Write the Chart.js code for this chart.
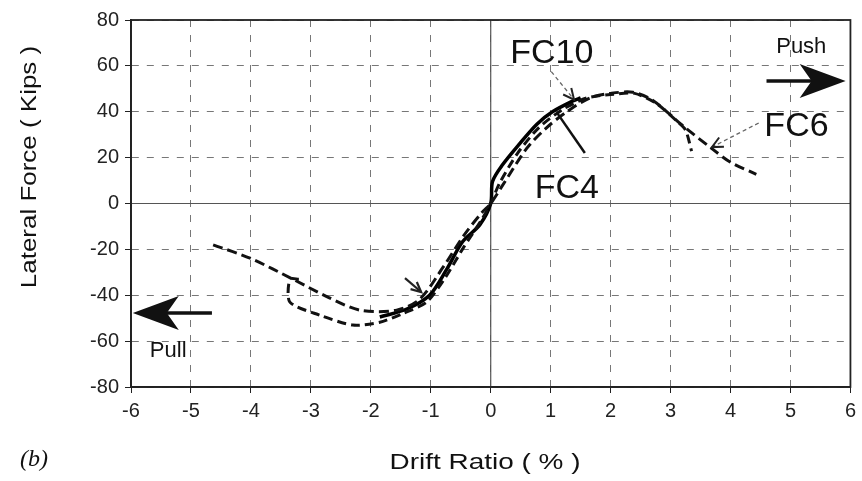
<!DOCTYPE html>
<html>
<head>
<meta charset="utf-8">
<script src="https://cdn.jsdelivr.net/npm/chart.js@4.4.1/dist/chart.umd.min.js"></script>
<style>
    html, body { margin: 0; padding: 0; background: #fff; }
</style>
</head>
<body>
<canvas id="lateralChart" width="862" height="481"></canvas>
<script>
// values: drift ratio (%) vs lateral force (kips)
const fc4X = [-1.85, -1.4, -1.02, -0.73, -0.47, -0.18, 0, 0.03, 0.2, 0.48, 0.77, 1.03, 1.37, 1.5];
const fc4Y = [-49.5, -46, -40, -28.5, -16.7, -9.2, 0, 9.6, 17, 26, 34.6, 40, 44.7, 46];

const fc6X = [-4.63, -4.0, -3.3, -2.7, -2.18, -1.57, -1.18, -0.8, -0.45, -0.15, 0, 0.2, 0.6, 0.93, 1.27, 1.65, 2.0, 2.37, 2.7, 3.2, 3.7, 4.0, 4.43];
const fc6Y = [-18, -24, -33, -41, -46.5, -46.5, -41.6, -28, -14, -4, 0, 8, 24, 33, 40, 46, 48, 48.5, 45, 34, 23.7, 18, 12.7];

const fc10X = [-3.2, -3.35, -3.35, -2.85, -2.3, -1.85, -1.47, -1.07, -0.75, -0.45, -0.15, 0, 0.15, 0.45, 0.8, 1.2, 1.6, 2.0, 2.4, 2.77, 3.1, 3.25, 3.35];
const fc10Y = [-33, -33, -43, -48.7, -53, -51.8, -48, -43, -32, -19, -7, 0, 9, 22, 33, 41, 46, 47.5, 48, 43.5, 36, 32, 22.8];

const xTickValues = [-6, -5, -4, -3, -2, -1, 0, 1, 2, 3, 4, 5, 6];
const yTickValues = [-80, -60, -40, -20, 0, 20, 40, 60, 80];

function toPoints(xs, ys) {
    return xs.map((x, i) => ({ x: x, y: ys[i] }));
}

// arrow head made of two short strokes
function drawHead(ctx, x1, y1, x2, y2, len) {
    const ang = Math.atan2(y2 - y1, x2 - x1);
    ctx.beginPath();
    ctx.moveTo(x2 - len * Math.cos(ang - 0.45), y2 - len * Math.sin(ang - 0.45));
    ctx.lineTo(x2, y2);
    ctx.lineTo(x2 - len * Math.cos(ang + 0.45), y2 - len * Math.sin(ang + 0.45));
    ctx.stroke();
}

// big filled arrow (Push / Pull)
function drawBigArrow(ctx, xFrom, xTo, yy) {
    const dir = xTo > xFrom ? 1 : -1;
    ctx.lineWidth = 3.5;
    ctx.beginPath();
    ctx.moveTo(xFrom, yy);
    ctx.lineTo(xTo - dir * 30, yy);
    ctx.stroke();
    ctx.beginPath();
    ctx.moveTo(xTo, yy);
    ctx.lineTo(xTo - dir * 46, yy - 17);
    ctx.lineTo(xTo - dir * 34, yy);
    ctx.lineTo(xTo - dir * 46, yy + 17);
    ctx.closePath();
    ctx.fill();
}

const figureDecor = {
    id: 'figureDecor',
    beforeDatasetsDraw(chart) {
        const { ctx, chartArea: a, scales: { x, y } } = chart;
        ctx.save();
        // solid zero lines
        ctx.strokeStyle = '#555';
        ctx.lineWidth = 1.2;
        ctx.beginPath();
        ctx.moveTo(x.getPixelForValue(0), a.top);
        ctx.lineTo(x.getPixelForValue(0), a.bottom);
        ctx.moveTo(a.left, y.getPixelForValue(0));
        ctx.lineTo(a.right, y.getPixelForValue(0));
        ctx.stroke();
        // frame
        ctx.strokeStyle = '#222';
        ctx.lineWidth = 1.8;
        ctx.strokeRect(a.left, a.top, a.right - a.left, a.bottom - a.top);
        ctx.restore();
    },
    afterDatasetsDraw(chart) {
        const { ctx, scales: { x, y } } = chart;
        const px = v => x.getPixelForValue(v);
        const py = v => y.getPixelForValue(v);
        ctx.save();
        ctx.fillStyle = '#111';
        ctx.strokeStyle = '#111';
        ctx.textAlign = 'center';
        ctx.textBaseline = 'alphabetic';

        // curve labels
        ctx.font = '34px "Liberation Sans", Arial, sans-serif';
        ctx.fillText('FC10', px(1.02), py(61.2));
        ctx.fillText('FC4', px(1.27), py(2.4));
        ctx.fillText('FC6', px(5.1), py(29.4));

        ctx.font = '22px "Liberation Sans", Arial, sans-serif';
        ctx.fillText('Push', px(5.18), py(65.6));
        ctx.fillText('Pull', px(-5.38), py(-66.9));

        drawBigArrow(ctx, px(4.6), px(5.92), py(53.4));
        drawBigArrow(ctx, px(-4.65), px(-5.97), py(-47.7));

        // FC4 pointer (solid)
        ctx.lineWidth = 2.5;
        ctx.beginPath();
        ctx.moveTo(px(1.11), py(39.4));
        ctx.lineTo(px(1.57), py(22));
        ctx.stroke();

        // thin dashed pointers
        ctx.strokeStyle = '#666';
        ctx.lineWidth = 1.3;
        ctx.setLineDash([4, 3]);
        ctx.beginPath();
        ctx.moveTo(px(1.01), py(57.5));
        ctx.lineTo(px(1.39), py(45.3));
        ctx.moveTo(px(4.47), py(35.1));
        ctx.lineTo(px(3.69), py(24.6));
        ctx.stroke();
        ctx.setLineDash([]);
        ctx.strokeStyle = '#222';
        ctx.lineWidth = 2;
        drawHead(ctx, px(1.01), py(57.5), px(1.39), py(45.3), 12);
        drawHead(ctx, px(4.47), py(35.1), px(3.69), py(24.6), 12);

        // pointer on the negative branch
        ctx.lineWidth = 2.2;
        ctx.beginPath();
        ctx.moveTo(px(-1.43), py(-32.5));
        ctx.lineTo(px(-1.16), py(-38.6));
        ctx.stroke();
        drawHead(ctx, px(-1.43), py(-32.5), px(-1.16), py(-38.6), 11);
        ctx.restore();
    },
    afterDraw(chart) {
        const { ctx, chartArea: a } = chart;
        ctx.save();
        ctx.fillStyle = '#111';
        ctx.textAlign = 'center';
        ctx.textBaseline = 'alphabetic';
        ctx.font = '22px "Liberation Sans", Arial, sans-serif';

        // x axis title, slightly stretched like the scan
        ctx.save();
        ctx.translate(485, 469);
        ctx.scale(1.27, 1);
        ctx.fillText('Drift Ratio ( % )', 0, 0);
        ctx.restore();

        // y axis title
        ctx.save();
        ctx.translate(36, 167);
        ctx.rotate(-Math.PI / 2);
        ctx.scale(1.18, 1);
        ctx.fillText('Lateral Force ( Kips )', 0, 0);
        ctx.restore();

        ctx.font = 'italic 24px "Liberation Serif", "Times New Roman", serif';
        ctx.fillText('(b)', 34, 466);
        ctx.restore();
    }
};

const ctx = document.getElementById('lateralChart').getContext('2d');

const lateralChart = new Chart(ctx, {
    type: 'scatter',
    data: {
        datasets: [
            {
                label: 'FC6',
                data: toPoints(fc6X, fc6Y),
                showLine: true,
                borderColor: '#111',
                borderWidth: 3,
                borderDash: [10, 5],
                pointRadius: 0,
                tension: 0.3
            },
            {
                label: 'FC10',
                data: toPoints(fc10X, fc10Y),
                showLine: true,
                borderColor: '#111',
                borderWidth: 3,
                borderDash: [9, 5],
                pointRadius: 0,
                tension: 0.25
            },
            {
                label: 'FC4',
                data: toPoints(fc4X, fc4Y),
                showLine: true,
                borderColor: '#000',
                borderWidth: 3.5,
                pointRadius: 0,
                tension: 0.3
            }
        ]
    },
    options: {
        responsive: false,
        animation: false,
        layout: {
            padding: { top: 20, right: 10, left: 0, bottom: 0 }
        },
        plugins: {
            legend: { display: false },
            tooltip: { enabled: false }
        },
        scales: {
            x: {
                type: 'linear',
                min: -6,
                max: 6,
                afterBuildTicks: s => { s.ticks = xTickValues.map(v => ({ value: v })); },
                afterFit: s => { s.height = 94; },
                ticks: {
                    color: '#222',
                    padding: 6,
                    font: { family: 'Liberation Sans', size: 20 }
                },
                grid: {
                    color: '#777',
                    lineWidth: 1,
                    tickColor: '#222',
                    tickLength: 6
                },
                border: { color: '#222', width: 1.8, dash: [7, 8] }
            },
            y: {
                min: -80,
                max: 80,
                afterBuildTicks: s => { s.ticks = yTickValues.map(v => ({ value: v })); },
                afterFit: s => { s.width = 131; },
                ticks: {
                    color: '#222',
                    padding: 6,
                    font: { family: 'Liberation Sans', size: 20 }
                },
                grid: {
                    color: '#777',
                    lineWidth: 1,
                    tickColor: '#222',
                    tickLength: 6
                },
                border: { color: '#222', width: 1.8, dash: [7, 8] }
            }
        }
    },
    plugins: [figureDecor]
});
</script>
</body>
</html>
